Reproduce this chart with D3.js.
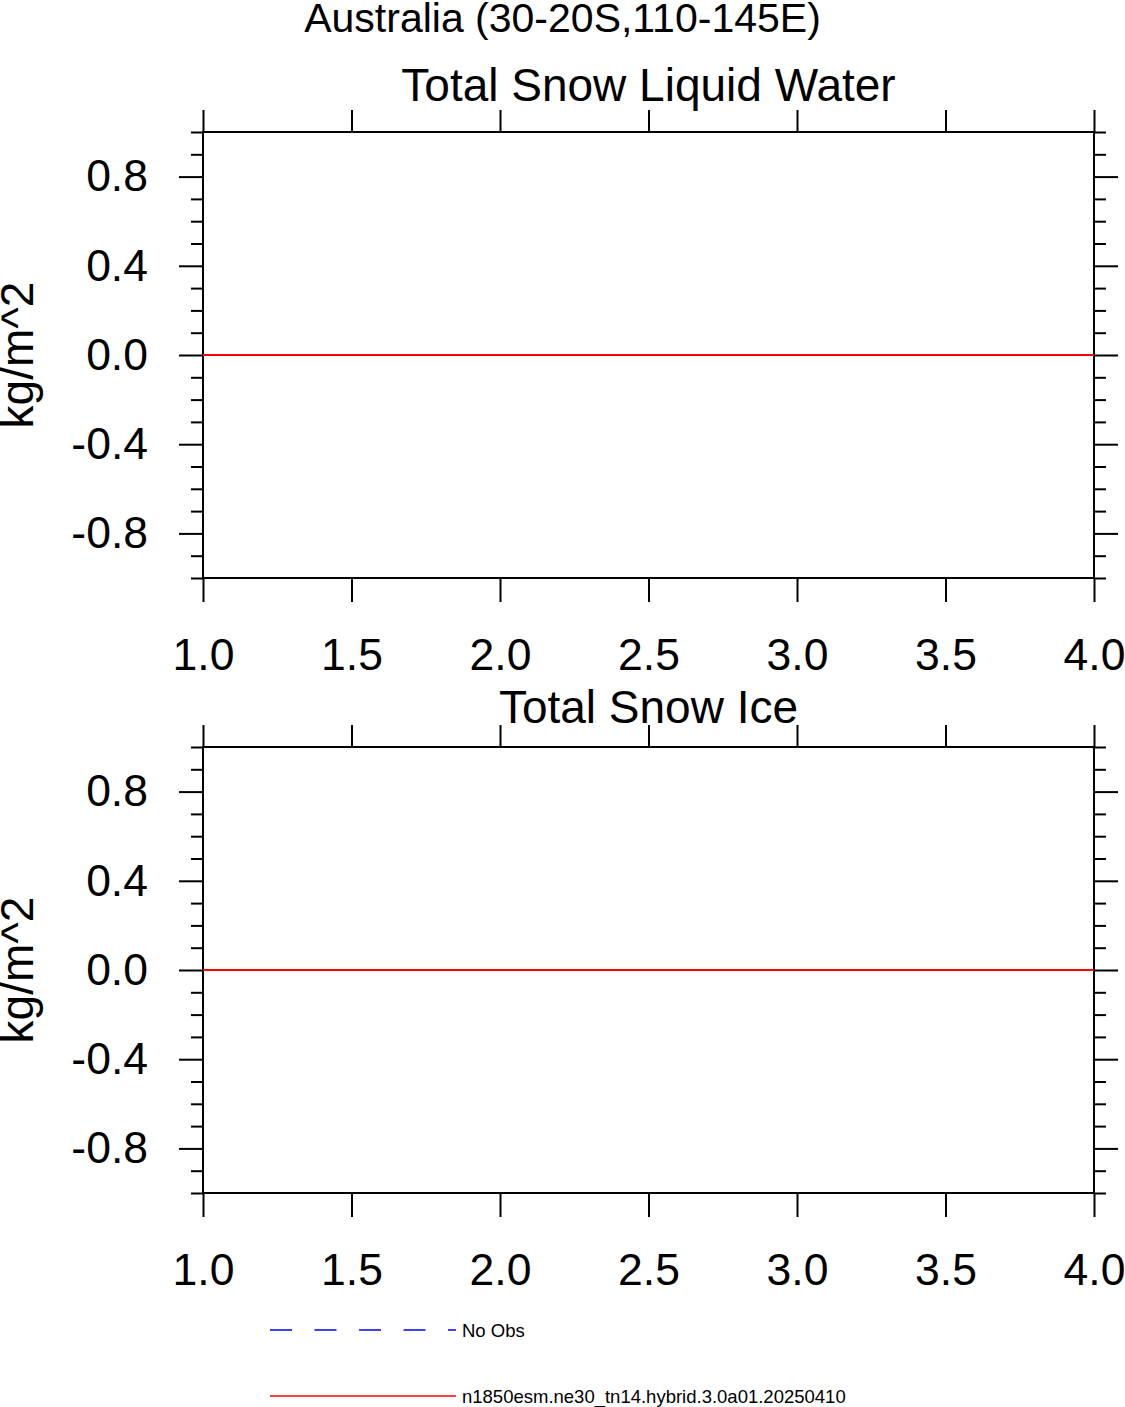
<!DOCTYPE html>
<html>
<head>
<meta charset="utf-8">
<script src="https://cdn.jsdelivr.net/npm/d3@7"></script>
<style>
  body { margin: 0; background: #fff; }
  svg { display: block; font-family: "Liberation Sans", Arial, Helvetica, sans-serif; }
</style>
</head>
<body>
<div class="svg-content"></div>
<script>
// chart values
const xValues = [1, 2, 3, 4];
const liquidWater = [0, 0, 0, 0];
const snowIce = [0, 0, 0, 0];
const panelTitles = ["Total Snow Liquid Water", "Total Snow Ice"];
const xTicks = [1.0, 1.5, 2.0, 2.5, 3.0, 3.5, 4.0];
const yMajorTicks = [-0.8, -0.4, 0.0, 0.4, 0.8];
const yMinorTicks = [-1.0, -0.9, -0.7, -0.6, -0.5, -0.3, -0.2, -0.1, 0.1, 0.2, 0.3, 0.5, 0.6, 0.7, 0.9, 1.0];
const legendLabels = ["No Obs", "n1850esm.ne30_tn14.hybrid.3.0a01.20250410"];

const svgWidth = 1125;
const svgHeight = 1407;
const left = 203;
const right = 1094;
const panelHeight = 446;
const panelTops = [132, 747];
const titleGaps = [31, 24.5];

let svg = d3.select(".svg-content")
            .append("svg")
            .attr("width", svgWidth)
            .attr("height", svgHeight);

svg.append("text")
   .attr("x", svgWidth / 2)
   .attr("y", 32)
   .attr("text-anchor", "middle")
   .attr("font-size", 41)
   .text("Australia (30-20S,110-145E)");

const xScale = d3.scaleLinear()
                 .domain([1, 4])
                 .range([left, right]);

const fmt = d => d.toFixed(1);

function drawPanel(top, gap, title, values) {
  const yScale = d3.scaleLinear()
                   .domain([-1, 1])
                   .range([top + panelHeight, top]);

  let g = svg.append("g");

  // minor y ticks, both sides
  g.append("g")
   .attr("transform", "translate(" + left + ",0)")
   .call(d3.axisLeft(yScale).tickValues(yMinorTicks).tickSize(12).tickSizeOuter(0).tickFormat(""));
  g.append("g")
   .attr("transform", "translate(" + right + ",0)")
   .call(d3.axisRight(yScale).tickValues(yMinorTicks).tickSize(12).tickSizeOuter(0).tickFormat(""));

  // major y ticks
  g.append("g")
   .attr("transform", "translate(" + left + ",0)")
   .call(d3.axisLeft(yScale).tickValues(yMajorTicks).tickSize(24).tickSizeOuter(0).tickPadding(31).tickFormat(fmt));
  g.append("g")
   .attr("transform", "translate(" + right + ",0)")
   .call(d3.axisRight(yScale).tickValues(yMajorTicks).tickSize(24).tickSizeOuter(0).tickFormat(""));

  // x ticks, bottom and top
  g.append("g")
   .attr("transform", "translate(0," + (top + panelHeight) + ")")
   .call(d3.axisBottom(xScale).tickValues(xTicks).tickSize(24).tickSizeOuter(0).tickPadding(36).tickFormat(fmt));
  g.append("g")
   .attr("transform", "translate(0," + top + ")")
   .call(d3.axisTop(xScale).tickValues(xTicks).tickSize(22).tickSizeOuter(0).tickFormat(""));

  g.selectAll(".domain").remove();
  g.selectAll(".tick line").attr("stroke", "#000").attr("stroke-width", 2);
  g.selectAll(".tick text")
   .attr("fill", "#000")
   .attr("font-size", 44.5)
   .attr("font-family", "\"Liberation Sans\", Arial, Helvetica, sans-serif");

  // frame
  g.append("rect")
   .attr("x", left)
   .attr("y", top)
   .attr("width", right - left)
   .attr("height", panelHeight)
   .attr("fill", "none")
   .attr("stroke", "#000")
   .attr("stroke-width", 2);

  // model line
  const line = d3.line()
                 .x((d, i) => xScale(xValues[i]))
                 .y(d => yScale(d));
  g.append("path")
   .datum(values)
   .attr("d", line)
   .attr("fill", "none")
   .attr("stroke", "#ff0000")
   .attr("stroke-width", 2);

  g.append("text")
   .attr("x", (left + right) / 2)
   .attr("y", top - gap)
   .attr("text-anchor", "middle")
   .attr("font-size", 46)
   .text(title);

  g.append("text")
   .attr("transform", "translate(33," + (top + panelHeight / 2) + ") rotate(-90)")
   .attr("text-anchor", "middle")
   .attr("font-size", 46)
   .text("kg/m^2");
}

drawPanel(panelTops[0], titleGaps[0], panelTitles[0], liquidWater);
drawPanel(panelTops[1], titleGaps[1], panelTitles[1], snowIce);

// legend
const legendY = [1330, 1396];
const legendColors = ["#0000ff", "#ff0000"];
const legendDash = ["22,22.5", null];

legendLabels.forEach((label, i) => {
  svg.append("line")
     .attr("x1", 270)
     .attr("x2", 456)
     .attr("y1", legendY[i])
     .attr("y2", legendY[i])
     .attr("stroke", legendColors[i])
     .attr("stroke-width", 1.5)
     .attr("stroke-dasharray", legendDash[i]);
  svg.append("text")
     .attr("x", 462)
     .attr("y", legendY[i] + 6.5)
     .attr("font-size", 18.5)
     .text(label);
});
</script>
</body>
</html>
